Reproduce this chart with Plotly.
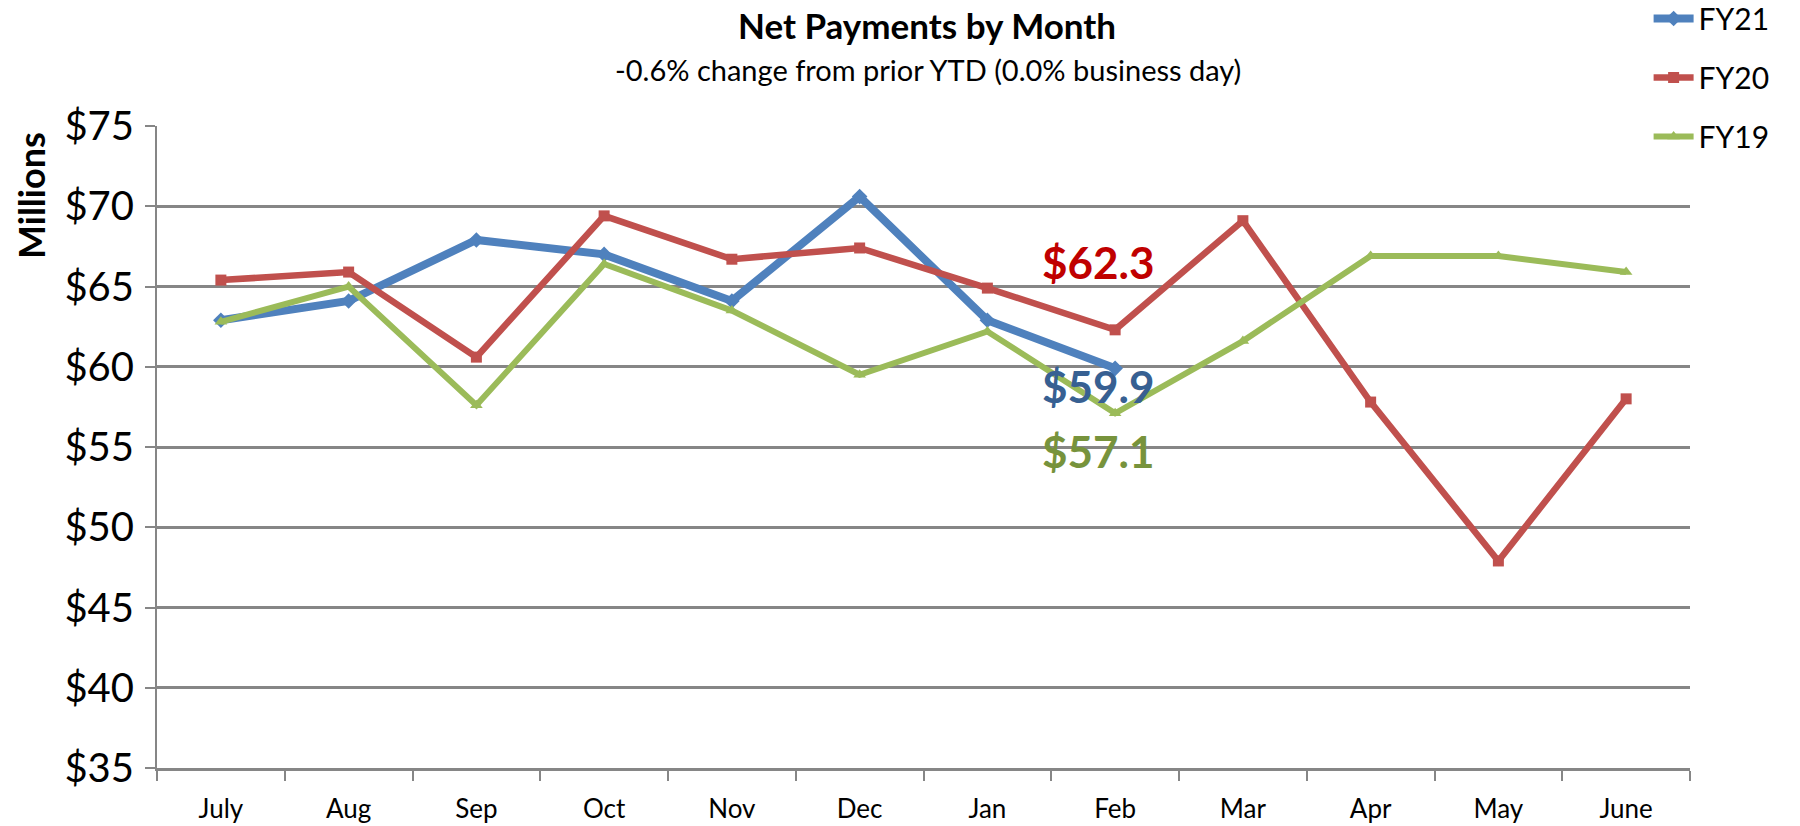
import plotly.graph_objects as go

months = ["July", "Aug", "Sep", "Oct", "Nov", "Dec", "Jan", "Feb", "Mar", "Apr", "May", "June"]
fy21 = [62.9, 64.1, 67.9, 67.0, 64.1, 70.6, 62.9, 59.9]
fy20 = [65.4, 65.9, 60.6, 69.4, 66.7, 67.4, 64.9, 62.3, 69.1, 57.8, 47.9, 58.0]
fy19 = [62.8, 65.0, 57.6, 66.4, 63.5, 59.5, 62.2, 57.1, 61.6, 66.9, 66.9, 65.9]
y_ticks = [35, 40, 45, 50, 55, 60, 65, 70, 75]
y_tick_text = ["$" + str(v) for v in y_ticks]

FONT = "Lato, 'Open Sans', sans-serif"

series = [
    ("FY21", fy21, "#4F81BD", 8, "diamond", 12),
    ("FY20", fy20, "#C0504D", 6.5, "square", 11),
    ("FY19", fy19, "#9BBB59", 6, "triangle-up", 11),
]

fig = go.Figure()
for i, (name, vals, color, lw, sym, ms) in enumerate(series):
    fig.add_trace(go.Scatter(
        x=months[:len(vals)], y=vals, name=name, mode="lines+markers",
        line=dict(color=color, width=lw),
        marker=dict(color=color, symbol=sym, size=ms),
        legendgroup=name,
    ))

# value labels for the latest month (Feb)
labels = [
    (fy20[7], "#C00000", 68),
    (fy21[7], "#376092", -18),
    (fy19[7], "#77933C", -38),
]
for v, c, ys in labels:
    fig.add_annotation(x=months[7], y=v, text="$%.1f" % v, showarrow=False,
                       xanchor="center", yanchor="middle",
                       xshift=-17, yshift=ys,
                       font=dict(family=FONT, size=44, color=c, weight="bold"))

fig.add_annotation(xref="paper", yref="paper", x=0.502, y=1.0, yshift=101,
                   xanchor="center", yanchor="middle",
                   text="<b>Net Payments by Month</b>", showarrow=False,
                   font=dict(family=FONT, size=35, color="#000000"))
fig.add_annotation(xref="paper", yref="paper", x=0.503, y=1.0, yshift=57,
                   xanchor="center", yanchor="middle",
                   text="-0.6% change from prior YTD (0.0% business day)", showarrow=False,
                   font=dict(family=FONT, size=29, color="#000000"))
fig.add_annotation(xref="paper", yref="paper", x=0, xshift=-126, y=1.0, yshift=-70,
                   xanchor="center", yanchor="middle",
                   text="<b>Millions</b>", showarrow=False, textangle=-90,
                   font=dict(family=FONT, size=36, color="#000000"))

fig.update_layout(
    width=1800, height=826,
    margin=dict(l=157, r=110, t=126, b=58, autoexpand=False),
    paper_bgcolor="white", plot_bgcolor="white",
    font=dict(family=FONT, color="#000000"),
    showlegend=True,
    legend=dict(x=0.973, xanchor="left", y=1.208, yref="paper", yanchor="top",
                font=dict(family=FONT, size=30, color="#000000"),
                tracegroupgap=17, bgcolor="rgba(0,0,0,0)", itemwidth=40),
)
fig.update_xaxes(
    type="category", categoryorder="array", categoryarray=months,
    range=[-0.5, 11.5], showgrid=False, automargin=False,
    showline=True, linecolor="#868686", linewidth=3,
    ticks="outside", tickson="boundaries", ticklen=10, tickcolor="#868686", tickwidth=2,
    tickfont=dict(family=FONT, size=26, color="#000000"),
    ticklabelstandoff=16,
)
fig.update_yaxes(
    range=[35, 75], tickvals=y_ticks, ticktext=y_tick_text, automargin=False,
    showgrid=True, gridcolor="#868686", gridwidth=2.5,
    showline=True, linecolor="#868686", linewidth=2,
    ticks="outside", ticklen=10, tickcolor="#868686", tickwidth=2,
    tickfont=dict(family=FONT, size=40, color="#000000"),
    ticklabelstandoff=3, zeroline=False,
)

fig.write_html("out.html", config={"displayModeBar": False},
               post_script="document.body.style.margin='0px';")
